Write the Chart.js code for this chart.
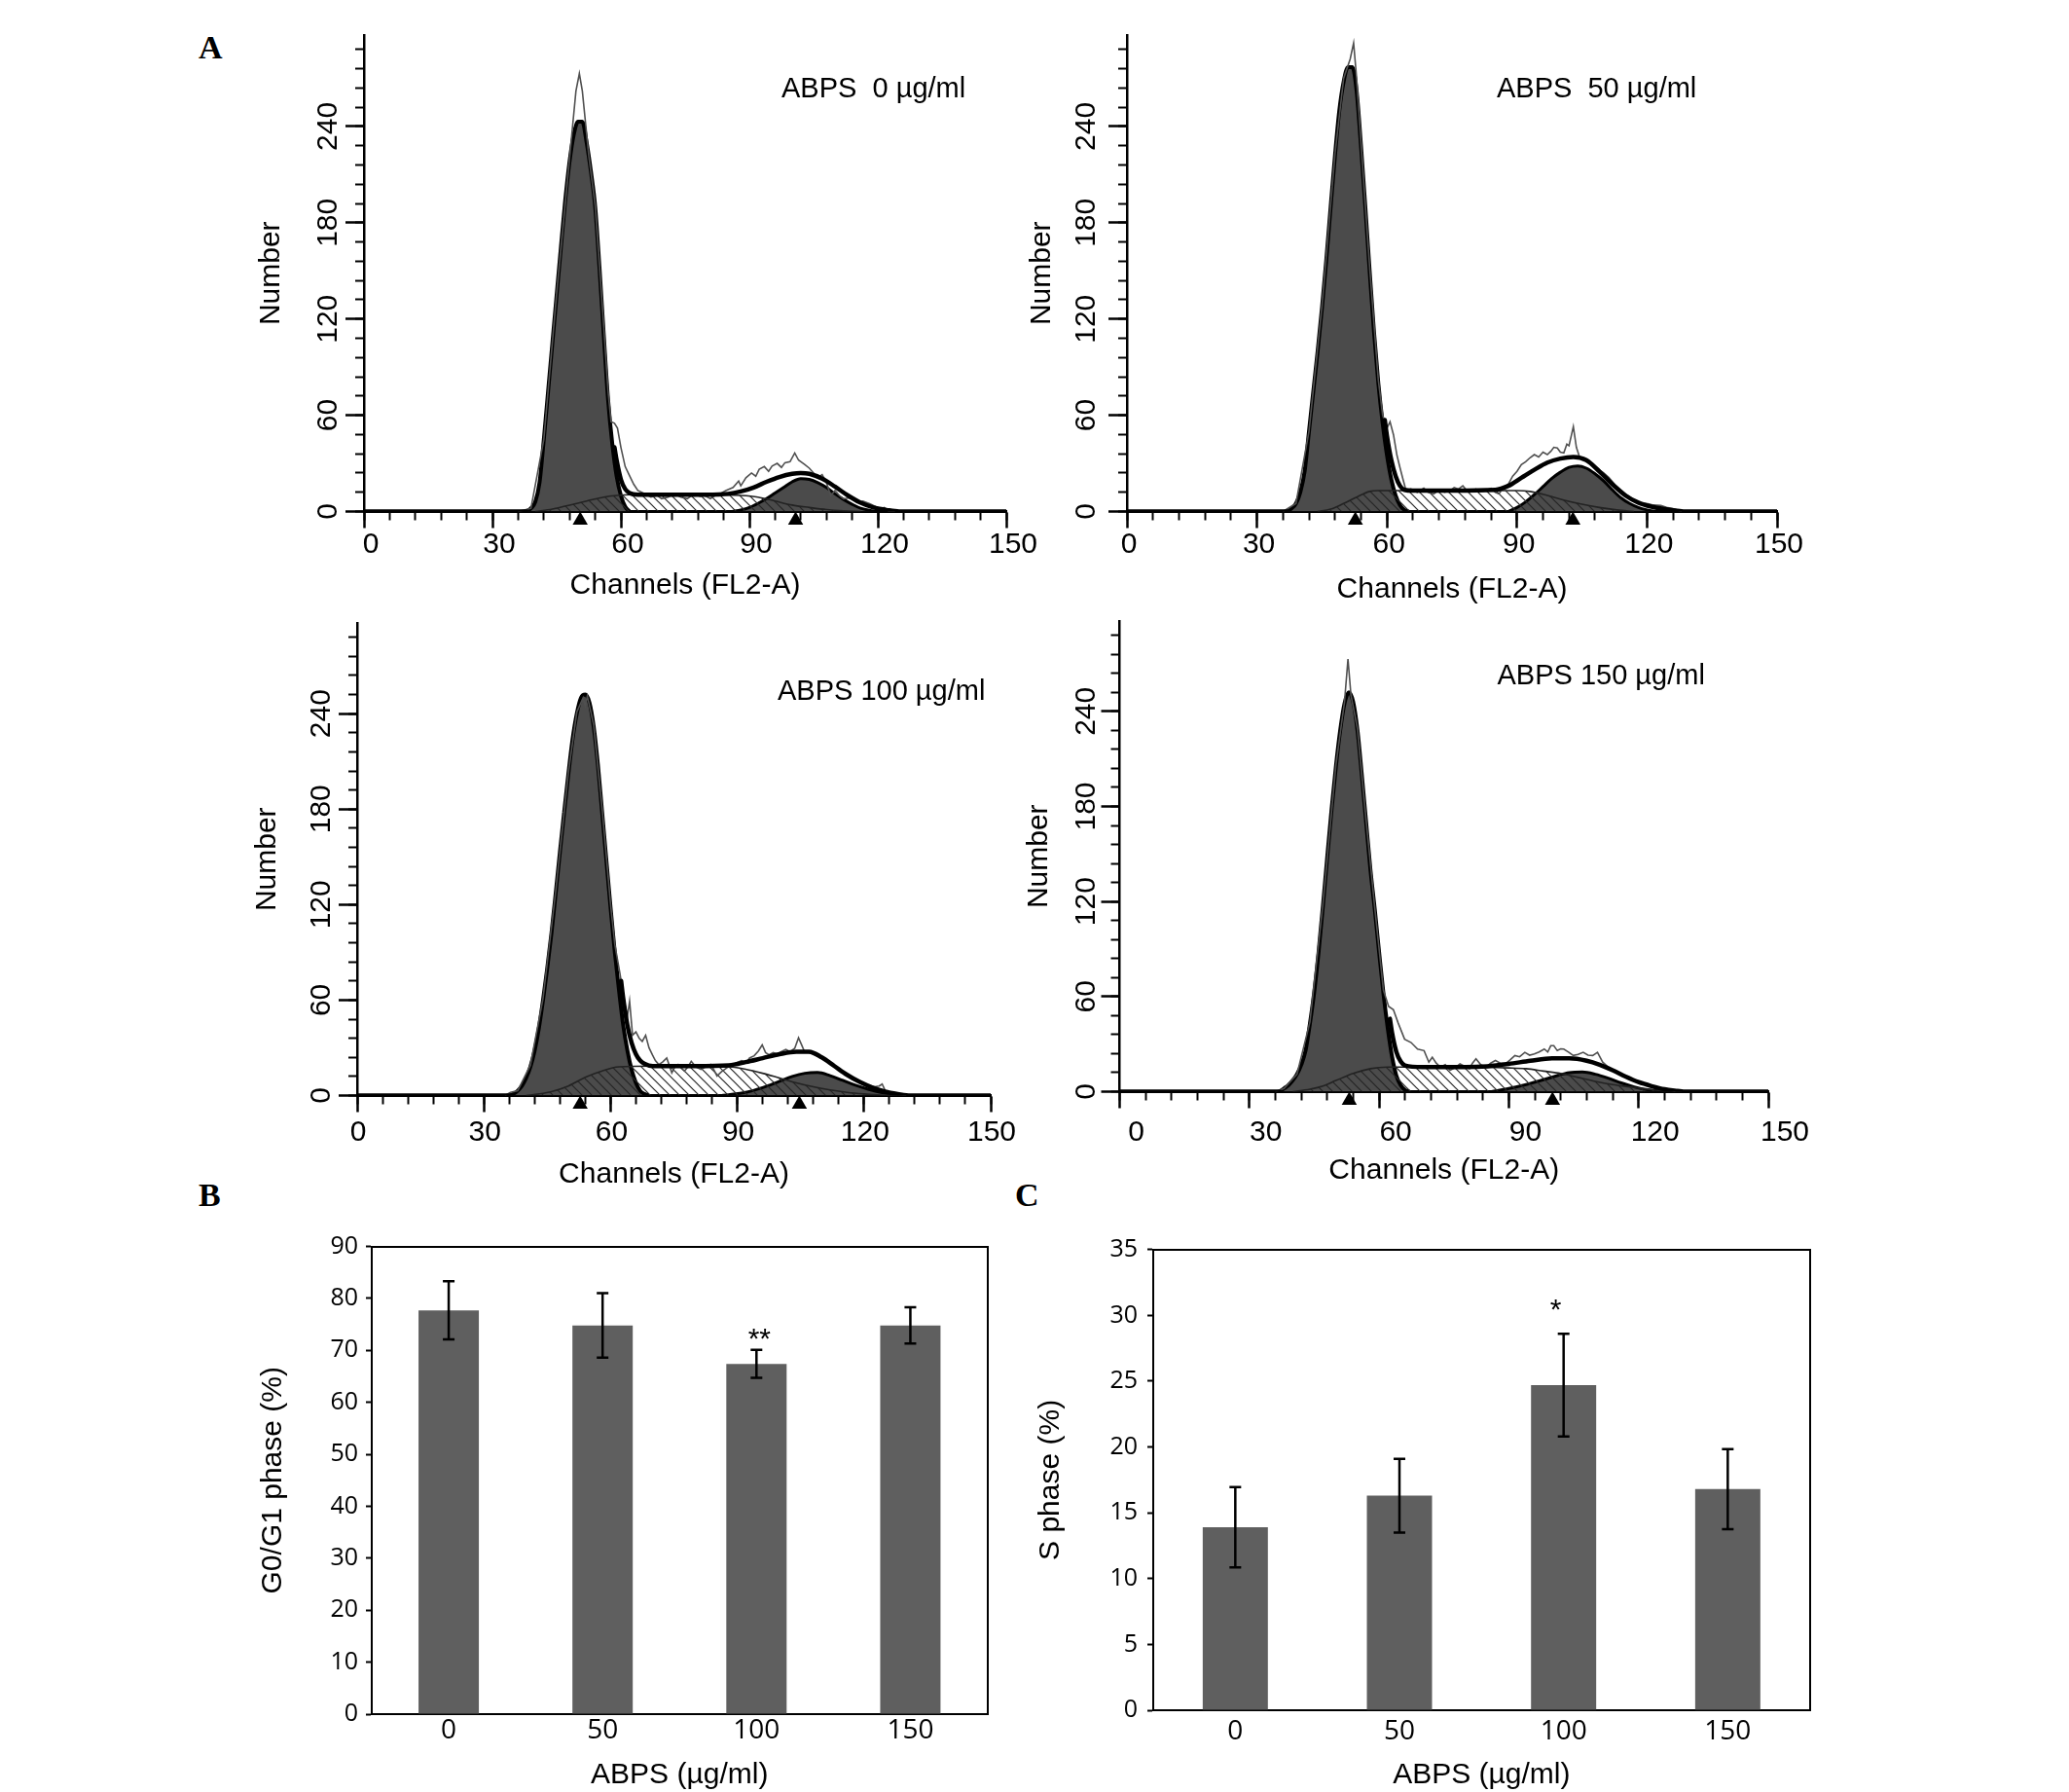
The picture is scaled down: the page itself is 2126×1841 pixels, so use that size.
<!DOCTYPE html>
<html><head><meta charset="utf-8">
<script src="https://cdn.jsdelivr.net/npm/chart.js@4.4.1/dist/chart.umd.min.js"></script>
<style>
html,body{margin:0;padding:0;background:#fff;width:2126px;height:1841px;overflow:hidden;position:relative;}
canvas{position:absolute;}
.lab{position:absolute;font-family:'Liberation Serif','Times New Roman',serif;font-weight:bold;font-size:34px;line-height:1;color:#000;}
</style></head><body>
<div class="lab" style="left:204px;top:32px">A</div>
<div class="lab" style="left:204px;top:1211px">B</div>
<div class="lab" style="left:1043px;top:1211px">C</div>
<script>
// ---------------- DATA ----------------
// Histogram panels: channel (FL2-A) vs number of cells
const xTicksHist = [0, 30, 60, 90, 120, 150];
const yTicksHist = [0, 60, 120, 180, 240];
const histTitles = ['ABPS  0 µg/ml', 'ABPS  50 µg/ml', 'ABPS 100 µg/ml', 'ABPS 150 µg/ml'];

// ABPS 0
const g1_0 = [[38,0],[39,2],[40,6],[41,18],[42,45],[43,75],[44,105],[45,135],[46,165],[47,194],[48,218],[49,235],[50,243],[51,243],[52,230],[53,212],[54,190],[55,152],[56,110],[57,70],[58,42],[59,22],[60,10],[61,3],[62,0]];
const s_0 = [[40,0],[44,1.5],[48,4],[52,6.5],[56,9],[59,10],[62,10.5],[70,10.5],[80,10.5],[88,10],[92,9],[96,6.5],[100,4],[104,2.5],[108,1.2],[112,0.4],[116,0]];
const g2_0 = [[86,0],[88,1],[90,2.5],[92,5],[94,8],[96,11.5],[98,15],[100,18.5],[102,20.5],[104,20],[106,18],[108,15],[110,11],[112,7.5],[114,4.5],[116,2],[118,0.7],[120,0]];
const sum_0 = [[0,0],[38,0],[46,null],[58.5,40],[59,32],[60,20],[61,14],[62,11.5],[64,10.5],[70,10.5],[80,10.5],[85,11],[88,12.5],[91,15],[94,18.5],[97,21.5],[100,23.5],[102,24],[104,23.5],[107,20.5],[110,15.5],[113,10],[116,5.5],[119,2.5],[122,1],[125,0],[150,0]];
const raw_0 = [[36,0],[39,2],[42,45],[45,136],[48,220],[49.5,262],[50.3,273],[51,262],[52.5,222],[54,191],[56,115],[57,75],[57.7,56],[58.5,55],[59.2,52],[60,40],[61,28],[61.9,23],[63,17],[64,13],[65.7,11],[67,9],[68.5,10],[69.5,8],[71,9],[72.5,11],[74,9],[75.5,8],[77.1,11],[78.5,9.5],[79.5,10],[80.9,8],[82,10],[83.5,11.5],[84.5,13],[86.2,15],[87.5,19],[88,16],[89.2,21],[90.5,24],[91.5,22],[92.3,26.3],[93.5,28],[94.5,25],[95.3,28.3],[96.5,30],[97.5,27.5],[98.3,30.4],[99.5,31],[100.6,36.5],[101.5,32],[102.9,29.4],[104,27],[105,24],[105.9,21.2],[107,23],[108,18],[109,9.9],[110,13],[111,10],[112,7.9],[113.5,8.5],[115,5.8],[116.5,6.5],[118.1,4.8],[119.5,3],[120.7,1.7],[121.5,2.5],[122.6,0],[124,0]];
const tri_0 = [50.5, 100.8];

// ABPS 50
const g1_50 = [[37,0],[38,2],[39,5],[40,12],[41,25],[42,50],[43,75],[44,100],[45,127],[46,157],[47,190],[48,222],[49,250],[50,268],[51,277],[52,277],[53,262],[54,228],[55,190],[56,150],[57,112],[58,80],[59,55],[60,35],[61,20],[62,10],[63,4],[64,1],[65,0]];
const s_50 = [[44,0],[47,1.5],[50,5],[53,9],[56,12.5],[58,13],[70,13],[80,13],[90,13],[93,12.5],[97,10],[101,7],[105,4.5],[109,2.5],[113,1],[117,0]];
const g2_50 = [[88,0],[90,2.5],[92,6],[94,10.5],[96,15.5],[98,20.5],[100,24.5],[102,27.5],[104,28.4],[106,27],[108,23.5],[110,19],[112,13.5],[114,8.5],[116,5],[118,2.5],[120,1],[122,0]];
const sum_50 = [[0,0],[37,0],[46,null],[59.5,57],[60,47],[61,32],[62,22],[63,16],[64,13.5],[66,13],[75,13],[85,13.5],[88,16],[91,21],[94,26],[97,30.5],[100,33],[103,34],[106,32],[109,25],[112,17],[115,10],[118,5.5],[121,3],[124,1.5],[127,0.5],[129,0],[150,0]];
const raw_50 = [[36,0],[39,5],[42,50],[45,128],[48,223],[50,270],[51.5,282],[52.3,292],[53,270],[54,230],[56,152],[58,82],[59,60],[60,52],[60.7,56],[61.5,47.8],[62.3,35],[63,27.3],[63.7,20],[64.4,13],[65.5,14],[67,12],[68.5,14.5],[69.5,12],[70.8,11],[72,13.5],[73.3,12],[74.5,13],[75.5,15],[76.5,14],[77.5,16],[78.3,13.5],[79,12],[80.5,14],[81.5,12.5],[82.8,13],[84,14.5],[85,12],[85.8,11],[87,15],[88,17],[89,22],[90,25],[91,29.3],[92,31],[93,33.5],[94,35.5],[95,34],[96,37],[97,35.5],[97.8,37.5],[98.5,40],[99.3,39.6],[100,37],[100.8,36.5],[101.5,42],[102,41],[103,52.9],[103.7,40],[104.5,33.4],[105.5,32],[106.5,31],[107.5,29.3],[109,26],[110,24],[111.2,21.2],[112.5,17],[114.2,13],[115.5,10],[117.2,6.8],[118.5,5.5],[120.2,4.8],[121.5,4],[123.2,3.7],[124.5,2.5],[126.2,1.7],[128,0]];
const tri_50 = [52.7, 102.9];

// ABPS 100
const g1_100 = [[36,0],[37,1],[38,3],[39,6],[40,11],[41,18],[42,28],[43,42],[44,60],[45,80],[46,102],[47,127],[48,153],[49,178],[50,202],[51,224],[52,240],[53,250],[54,252],[55,247],[56,232],[57,208],[58,178],[59,148],[60,118],[61,90],[62,66],[63,44],[64,28],[65,16],[66,8],[67,3],[68,1],[69,0]];
const s_100 = [[40,0],[43,1],[46,2.5],[50,6],[54,11.5],[58,15.5],[62,18],[70,18.5],[80,18.5],[88,18],[92,16.5],[96,14],[100,11],[104,8],[108,5.5],[112,3.5],[116,2],[120,1],[124,0.3],[128,0]];
const g2_100 = [[86,0],[88,0.5],[92,2],[96,5],[100,9],[103,12],[106,14],[109,14.5],[112,12.5],[115,9.5],[118,6.5],[121,4],[124,2],[127,0.8],[130,0]];
const sum_100 = [[0,0],[36,0],[46,null],[62.5,72],[63,61],[64,44],[65,33],[66,26],[67,22],[68,20],[70,18.5],[80,18.5],[88,19],[92,21],[96,23.5],[100,26],[104,27.5],[107,27.5],[110,24],[113,18.5],[116,13],[119,8.5],[122,5],[125,2.5],[128,1],[131,0],[150,0]];
const raw_100 = [[35,0],[36.3,2],[38,3],[41,19],[44,61],[47,128],[50,203],[52,241],[53.5,250],[54,245],[54.5,251],[56,233],[58,180],[60,120],[61,95],[62.2,77],[63.3,58.4],[64,50],[64.5,59.4],[65.2,37.9],[66,40],[66.8,35.9],[67.5,34],[68.3,37.9],[69.1,30],[69.9,25.6],[70.6,22],[71.4,19.5],[72.3,21],[73.3,23.6],[74.5,14.3],[75.2,18],[76,19.5],[76.8,17],[77.5,15.4],[78.3,18],[79.1,21.5],[80.2,18],[81.4,16.4],[82.5,18],[83.7,19.5],[84.5,16],[85.2,12.3],[86.3,15],[87.5,17.4],[88.6,19],[89.8,20.5],[91,22],[92.2,21],[92.9,23.6],[94,25],[95,28],[95.9,31.8],[96.7,27],[97.5,25.6],[98.5,27],[99.5,26],[100.5,27.7],[101.5,29],[102.5,27.5],[103.6,29.7],[104.5,36.3],[105.2,32],[105.9,27.7],[107,27],[108.2,25.6],[109.5,24],[110.8,22],[112,20.5],[113.3,17.5],[114.5,15.5],[115.9,13.3],[117.2,11],[118.5,9],[119.7,7.2],[121,6.5],[122.5,5.5],[123.6,6],[124.3,7.2],[125.1,2.7],[126.5,1.5],[128.2,0.6],[130,0]];
const tri_100 = [52.8, 104.7];

// ABPS 150
const g1_150 = [[37,0],[38,2],[39,4],[40,7],[41,11],[42,17],[43,26],[44,43],[45,63],[46,88],[47,117],[48,148],[49,178],[50,205],[51,228],[52,245],[53,252],[54,246],[55,228],[56,200],[57,170],[58,140],[59,115],[60,88],[61,62],[62,40],[63,22],[64,10],[65,4],[66,1],[67,0]];
const s_150 = [[40,0],[44,1.5],[47,3.5],[50,7],[54,11.5],[58,14.5],[62,15.5],[70,15.5],[80,15.5],[90,15],[94,14.5],[98,13],[102,11.5],[106,9],[110,6.5],[114,4.5],[118,3],[122,1.5],[126,0.5],[130,0]];
const g2_150 = [[86,0],[90,2],[94,4.5],[98,7.5],[101,10],[104,12],[107,12.4],[110,11],[113,8.5],[116,5.5],[119,3],[122,1.2],[125,0.3],[128,0]];
const sum_150 = [[0,0],[37,0],[46,null],[62.5,46],[63,37],[64,25],[65,19],[66,16.5],[70,15.5],[80,15.5],[85,16],[90,17.5],[95,19.5],[100,21],[104,21],[108,19.5],[111,17],[114,13.5],[117,9.5],[120,6],[123,3.5],[126,1.5],[129,0.5],[131,0],[150,0]];
const raw_150 = [[36,0],[38,2],[41,11],[44,44],[47,118],[50,206],[52,246],[52.8,273],[53.5,250],[55,229],[57,171],[59,116],[61,64],[62.2,53.8],[63.3,51.7],[64.4,43.4],[65.9,33.1],[67.4,31],[68.9,26.9],[70.4,25.9],[71.5,18.6],[72.3,21.7],[73.2,18],[74.2,15.5],[75.3,17],[76.4,13.5],[77.5,15],[78.7,17.6],[79.8,16],[80.9,14.5],[81.6,18],[82.4,20.7],[83.5,17],[84.7,15.5],[85.8,18],[86.9,19.7],[88,18],[89.2,17.6],[90.3,20],[91.4,22.8],[92.5,22],[93.7,24.8],[94.8,23],[95.9,23.8],[97,25],[98.2,26.9],[99,25],[99.7,29],[100.4,29],[101.2,25.9],[102,27],[102.7,26.9],[103.8,25],[104.9,22.8],[106,23.5],[107.2,24.8],[108.3,23],[109.4,22.8],[110.5,24.8],[111.7,18.6],[113.2,15],[114.7,12.4],[116.2,10],[117.7,8.3],[119.2,6.5],[120.7,5.2],[122.2,4],[123.7,3.1],[125.2,2],[126.7,1.5],[128.5,0]];
const tri_150 = [53.1, 100.1];

// Bar panels
const doses = ['0', '50', '100', '150'];
const g0g1Mean = [77.7, 74.8, 67.4, 74.8];
const g0g1Sd   = [5.6, 6.2, 2.7, 3.5];
const sMean    = [13.9, 16.3, 24.7, 16.8];
const sSd      = [3.05, 2.8, 3.9, 3.05];
const g0g1Ticks = [0,10,20,30,40,50,60,70,80,90];
const sTicks    = [0,5,10,15,20,25,30,35];
const signif = {g0g1: {index: 2, text: '**'}, s: {index: 2, text: '*'}};

// ---------------- RENDERING ----------------
Chart.defaults.font.family = "'Liberation Sans', Arial, sans-serif";
Chart.defaults.color = '#000';

function hasFont(f) {
  const c = document.createElement('canvas').getContext('2d');
  const s = '0123456789 ABCmwil';
  c.font = '40px monospace'; const a = c.measureText(s).width;
  c.font = '40px "' + f + '", monospace';
  return Math.abs(c.measureText(s).width - a) > 0.5;
}
const NARROW = hasFont('Liberation Sans Narrow');
const histTickFont = NARROW ? {family: "'Liberation Sans Narrow', 'Liberation Sans', sans-serif", size: 33}
                            : {family: "'Liberation Sans', Arial, sans-serif", size: 30};
const titleFont = {family: "'Liberation Sans', Arial, sans-serif", size: 30};
const mctx = document.createElement('canvas').getContext('2d');
mctx.font = histTickFont.size + 'px ' + histTickFont.family;
const w240 = mctx.measureText('240').width;

const pts = a => a.map(p => ({x: p[0], y: p[1]}));

function mkCanvas(left, top, w, h) {
  const cv = document.createElement('canvas');
  cv.width = w; cv.height = h;
  cv.style.left = left + 'px'; cv.style.top = top + 'px';
  cv.style.width = w + 'px'; cv.style.height = h + 'px';
  document.body.appendChild(cv);
  return cv;
}
function hatchPattern(ctx) {
  const s = 10, t = document.createElement('canvas');
  t.width = s; t.height = s;
  const g = t.getContext('2d');
  g.strokeStyle = '#262626'; g.lineWidth = 1.2;
  g.beginPath();
  g.moveTo(-2, -2); g.lineTo(s + 2, s + 2);
  g.moveTo(-2, s - 2); g.lineTo(2, s + 2);
  g.moveTo(s - 2, -2); g.lineTo(s + 2, 2);
  g.stroke();
  return ctx.createPattern(t, 'repeat');
}
const panelTitle = {
  id: 'panelTitle',
  afterDraw(chart, args, o) {
    const {ctx, chartArea} = chart;
    ctx.save();
    ctx.font = '29px "Liberation Sans", Arial, sans-serif';
    ctx.fillStyle = '#000'; ctx.textBaseline = 'alphabetic'; ctx.textAlign = 'left';
    ctx.fillText(o.text, chartArea.left + o.dx, chartArea.top + o.dy);
    ctx.restore();
  }
};

function makeHist(P, D) {
  const cLeft = Math.round(P.numX - 22), cTop = Math.round(P.T - 30);
  const cRight = Math.round(P.R + 50), cBottom = Math.round(P.chanY + 22);
  const W = cRight - cLeft, H = cBottom - cTop;
  const cv = mkCanvas(cLeft, cTop, W, H);
  const ctx = cv.getContext('2d');
  const yPad = P.yLabOff - 19 - w240 / 2;
  const xPad = P.xLabOff - 17 - 0.6 * histTickFont.size;
  const line = {pointRadius: 0, pointHoverRadius: 0, cubicInterpolationMode: 'monotone', tension: 0.3};
  new Chart(ctx, {
    type: 'line',
    data: {datasets: [
      Object.assign({label: 'Model', data: pts(D.sum), borderColor: '#000', borderWidth: 4.5, fill: false, order: 0, borderCapStyle: 'round'}, line),
      {label: 'Mean', data: D.tri.map(x => ({x: x, y: -5.5})), showLine: false, pointStyle: 'triangle',
       pointRadius: 9, pointHoverRadius: 16, pointBackgroundColor: '#000', pointBorderWidth: 0, clip: false, order: 0},
      {label: 'Data', data: pts(D.raw), borderColor: '#505050', borderWidth: 1.6, fill: false, pointRadius: 0, tension: 0, order: 1},
      Object.assign({label: 'S', data: pts(D.s), borderColor: '#222', borderWidth: 1.6, fill: 'origin', backgroundColor: hatchPattern(ctx), order: 2}, line),
      Object.assign({label: 'G1', data: pts(D.g1), borderColor: '#000', borderWidth: 4, fill: 'origin', backgroundColor: '#4b4b4b', order: 3}, line),
      Object.assign({label: 'G2', data: pts(D.g2), borderColor: '#000', borderWidth: 3, fill: 'origin', backgroundColor: '#4b4b4b', order: 4}, line)
    ]},
    options: {
      responsive: false, animation: false, devicePixelRatio: 1, events: [],
      layout: {padding: {left: 0, top: P.T - cTop, right: cRight - P.R, bottom: 0}},
      plugins: {legend: {display: false}, tooltip: {enabled: false},
                panelTitle: {text: P.title, dx: P.tx, dy: P.ty}},
      scales: {
        x: {type: 'linear', min: 0, max: 150, weight: 1, position: 'bottom',
            afterBuildTicks: s => { s.ticks = xTicksHist.map(v => ({value: v})); },
            ticks: {font: histTickFont, color: '#000', padding: xPad, labelOffset: P.lblOff, autoSkip: false, maxRotation: 0, includeBounds: false},
            grid: {drawOnChartArea: false, drawTicks: true, tickLength: 17, tickWidth: 2.5, tickColor: '#000'},
            border: {display: true, color: '#000', width: 3},
            title: {display: true, text: 'Channels (FL2-A)', font: titleFont, color: '#000', padding: {top: 0, bottom: 4}},
            afterFit: s => { s.height = cBottom - P.B; }},
        xm: {type: 'linear', axis: 'x', min: 0, max: 150, weight: 0, position: 'bottom',
             ticks: {display: false, stepSize: 6, maxTicksLimit: 1000, includeBounds: false},
             grid: {drawOnChartArea: false, tickLength: 9, tickWidth: 2, tickColor: '#000'},
             border: {display: false}, afterFit: s => { s.height = 0; }},
        y: {type: 'linear', min: 0, max: P.max, weight: 1, position: 'left',
            afterBuildTicks: s => { s.ticks = yTicksHist.map(v => ({value: v})); },
            ticks: {font: histTickFont, color: '#000', minRotation: 90, maxRotation: 90, crossAlign: 'center', padding: yPad, autoSkip: false, includeBounds: false},
            grid: {drawOnChartArea: false, tickLength: 19, tickWidth: 2.5, tickColor: '#000'},
            border: {display: true, color: '#000', width: 2.5},
            title: {display: true, text: 'Number', font: titleFont, color: '#000', padding: {top: 4, bottom: 0}},
            afterFit: s => { s.width = P.L - cLeft; }},
        ym: {type: 'linear', axis: 'y', min: 0, max: P.max, weight: 0, position: 'left',
             afterBuildTicks: s => { s.ticks = s.ticks.filter(t => t.value <= 288); },
             ticks: {display: false, stepSize: 12, maxTicksLimit: 1000, includeBounds: false},
             grid: {drawOnChartArea: false, tickLength: 9, tickWidth: 2, tickColor: '#000'},
             border: {display: false}, afterFit: s => { s.width = 0; }}
      }
    },
    plugins: [panelTitle]
  });
}

makeHist({L: 374, R: 1034, T: 36, B: 525.5, max: 297, numX: 279, chanY: 602, yLabOff: 36, xLabOff: 34.5, lblOff: 7, title: histTitles[0], tx: 429, ty: 64},
         {g1: g1_0, s: s_0, g2: g2_0, sum: sum_0, raw: raw_0, tri: tri_0});
makeHist({L: 1158, R: 1826, T: 36, B: 525.5, max: 297, numX: 1071, chanY: 606, yLabOff: 41, xLabOff: 34, lblOff: 2, title: histTitles[1], tx: 380, ty: 64},
         {g1: g1_50, s: s_50, g2: g2_50, sum: sum_50, raw: raw_50, tri: tri_50});
makeHist({L: 367, R: 1018, T: 640, B: 1125.5, max: 297, numX: 275, chanY: 1207, yLabOff: 36, xLabOff: 38, lblOff: 1, title: histTitles[2], tx: 432, ty: 79},
         {g1: g1_100, s: s_100, g2: g2_100, sum: sum_100, raw: raw_100, tri: tri_100});
makeHist({L: 1150.5, R: 1817, T: 638, B: 1121.5, max: 297, numX: 1068, chanY: 1203, yLabOff: 33.5, xLabOff: 42, lblOff: 17, title: histTitles[3], tx: 388, ty: 65},
         {g1: g1_150, s: s_150, g2: g2_150, sum: sum_150, raw: raw_150, tri: tri_150});

// ---- bar charts with error bars ----
const errBars = {
  id: 'errBars',
  afterDatasetsDraw(chart, args, o) {
    const {ctx} = chart; const y = chart.scales.y;
    const meta = chart.getDatasetMeta(0); const vals = chart.data.datasets[0].data;
    ctx.save(); ctx.strokeStyle = '#000'; ctx.lineWidth = 2.5; ctx.lineCap = 'butt';
    meta.data.forEach((bar, i) => {
      const yt = y.getPixelForValue(vals[i] + o.sd[i]), yb = y.getPixelForValue(vals[i] - o.sd[i]);
      ctx.beginPath();
      ctx.moveTo(bar.x, yt); ctx.lineTo(bar.x, yb);
      ctx.moveTo(bar.x - 6, yt); ctx.lineTo(bar.x + 6, yt);
      ctx.moveTo(bar.x - 6, yb); ctx.lineTo(bar.x + 6, yb);
      ctx.stroke();
    });
    const st = o.star; const b = meta.data[st.index];
    const yc = y.getPixelForValue(vals[st.index] + o.sd[st.index]) - st.dy;
    ctx.font = '30px "Liberation Sans", Arial, sans-serif';
    ctx.fillStyle = '#000'; ctx.textAlign = 'center'; ctx.textBaseline = 'alphabetic';
    ctx.fillText(st.text, b.x + st.dx, yc + 0.575 * 30);
    ctx.restore();
  }
};

function makeBars(P, labels, mean, sd, ticks, star) {
  const cLeft = Math.round(P.titleX - 22), cTop = Math.round(P.T - 30);
  const cRight = Math.round(P.R + 14), cBottom = Math.round(P.titleY + 15);
  const W = cRight - cLeft, H = cBottom - cTop;
  const cv = mkCanvas(cLeft, cTop, W, H);
  const xFont = {family: "'Open Sans', 'Noto Sans', sans-serif", size: 28};
  new Chart(cv.getContext('2d'), {
    type: 'bar',
    data: {labels: labels, datasets: [{data: mean, backgroundColor: '#5f5f5f', borderWidth: 0,
           barPercentage: P.barPct, categoryPercentage: 1}]},
    options: {
      responsive: false, animation: false, devicePixelRatio: 1, events: [],
      layout: {padding: {left: 0, top: P.T - cTop, right: cRight - P.R, bottom: 0}},
      plugins: {legend: {display: false}, tooltip: {enabled: false}, errBars: {sd: sd, star: star}},
      scales: {
        x: {type: 'category', weight: 1, position: 'bottom',
            grid: {display: false, drawTicks: false}, border: {display: true, color: '#000', width: 2},
            ticks: {font: xFont, color: '#000', padding: P.xLabOff - 0.6 * xFont.size, maxRotation: 0},
            title: {display: true, text: 'ABPS (µg/ml)', font: {family: titleFont.family, size: 30, lineHeight: 1}, color: '#000', padding: {top: 0, bottom: 0}},
            afterFit: s => { s.height = cBottom - P.B; }},
        y: {type: 'linear', min: 0, max: ticks[ticks.length - 1], weight: 1, position: 'left',
            afterBuildTicks: s => { s.ticks = ticks.map(v => ({value: v})); },
            ticks: {font: {family: "'Open Sans', 'Noto Sans', sans-serif", size: 25}, color: '#000', padding: P.yGap - 6, autoSkip: false},
            grid: {drawOnChartArea: false, tickLength: 6, tickWidth: 2, tickColor: '#000'},
            border: {display: true, color: '#000', width: 2},
            title: {display: true, text: P.yTitle, font: titleFont, color: '#000', padding: {top: 4, bottom: 0}},
            afterFit: s => { s.width = P.L - cLeft; }},
        xt: {type: 'linear', axis: 'x', position: 'top', min: 0, max: 1,
             ticks: {display: false}, grid: {display: false, drawTicks: false},
             border: {display: true, color: '#000', width: 2}, afterFit: s => { s.height = 0; }},
        yr: {type: 'linear', axis: 'y', position: 'right', min: 0, max: 1,
             ticks: {display: false}, grid: {display: false, drawTicks: false},
             border: {display: true, color: '#000', width: 2}, afterFit: s => { s.width = 0; }}
      }
    },
    plugins: [errBars]
  });
}

makeBars({L: 382, R: 1014.5, T: 1280.5, B: 1761, titleX: 281, titleY: 1823.5, yGap: 14, xLabOff: 17.5, barPct: 0.392, yTitle: 'G0/G1 phase (%)'},
         doses, g0g1Mean, g0g1Sd, g0g1Ticks, Object.assign({dy: 19, dx: 3}, signif.g0g1));
makeBars({L: 1185, R: 1859.7, T: 1283.8, B: 1757, titleX: 1080, titleY: 1823.5, yGap: 16, xLabOff: 22.5, barPct: 0.397, yTitle: 'S phase (%)'},
         doses, sMean, sSd, sTicks, Object.assign({dy: 32.6, dx: -8}, signif.s));
</script>
</body></html>
